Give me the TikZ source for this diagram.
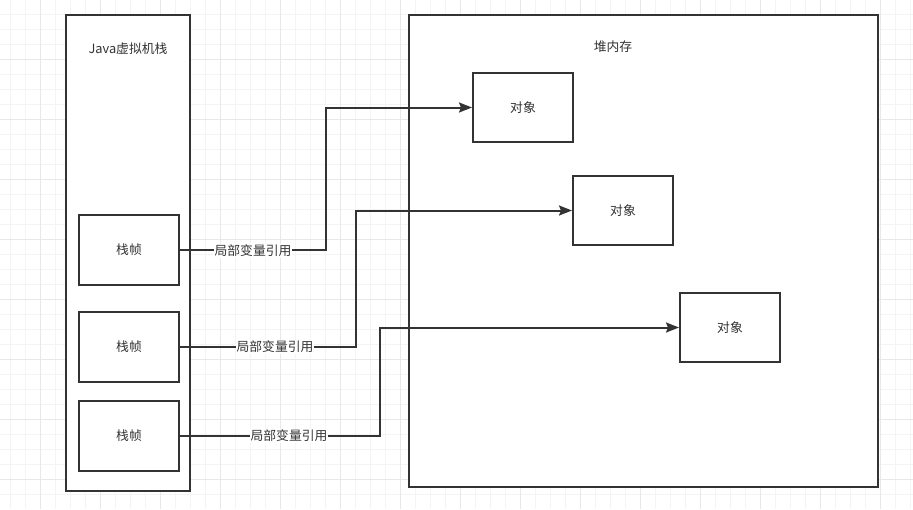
\documentclass[tikz,border=0pt]{standalone}
\usepackage{fontspec}
\setmainfont{Noto Sans CJK SC}
\usetikzlibrary{arrows.meta}
\definecolor{linegray}{HTML}{333333}
\definecolor{textgray}{HTML}{333333}
\begin{document}
\begin{tikzpicture}[x=1pt, y=-1pt,
  box/.style={draw=linegray, line width=2pt, rectangle, inner sep=0pt},
  frame/.style={box, minimum width=100pt, minimum height=70pt},
  obj/.style={box, minimum width=100pt, minimum height=69pt},
  txt/.style={text=textgray, font=\fontsize{12.8}{15}\selectfont},
  reflabel/.style={txt, fill=white, inner sep=1pt},
  ref/.style={draw=linegray, line width=2pt, -{Stealth[length=13pt, width=10pt, inset=2pt]}}]
  \useasboundingbox (0,0) rectangle (913,509);
  % grid
  \foreach \gx in {10,25,...,910} \draw[gray!9, line width=1pt] (\gx,0) -- (\gx,509);
  \foreach \gy in {14.3,29.3,...,509} \draw[gray!9, line width=1pt] (0,\gy) -- (913,\gy);
  \foreach \gx in {40,100,...,910} \draw[gray!18, line width=1pt] (\gx,0) -- (\gx,509);
  \foreach \gy in {59.3,119.3,...,509} \draw[gray!18, line width=1pt] (0,\gy) -- (913,\gy);
  % java stack
  \node[box, fill=white, minimum width=124pt, minimum height=476pt] (stack) at (128,253) {};
  \node[txt] (stacktitle) at (128,49) {Java虚拟机栈};
  \node[frame] (f1) at (129,250) {};
  \node[frame] (f2) at (129,347) {};
  \node[frame] (f3) at (129,436) {};
  \node[txt] at (f1) {栈帧};
  \node[txt] at (f2) {栈帧};
  \node[txt] at (f3) {栈帧};
  % heap
  \node[box, fill=white, minimum width=469pt, minimum height=472pt] (heap) at (643.5,251) {};
  \node[txt] (heaptitle) at (613,47) {堆内存};
  \node[obj] (o1) at (523,107.5) {};
  \node[obj] (o2) at (623,210.5) {};
  \node[obj] (o3) at (730,327.5) {};
  \node[txt] at (o1) {对象};
  \node[txt] at (o2) {对象};
  \node[txt] at (o3) {对象};
  % references
  \coordinate (k1) at (326,107.5);
  \coordinate (k2) at (356,210.5);
  \coordinate (k3) at (380,327.5);
  \draw[ref] (f1.east) -| (k1) -- (o1.west);
  \draw[ref] (f2.east) -| (k2) -- (o2.west);
  \draw[ref] (f3.east) -| (k3) -- (o3.west);
  \node[reflabel] (r1) at (253,251) {局部变量引用};
  \node[reflabel] (r2) at (275,347) {局部变量引用};
  \node[reflabel] (r3) at (289,436) {局部变量引用};
\end{tikzpicture}
\end{document}
